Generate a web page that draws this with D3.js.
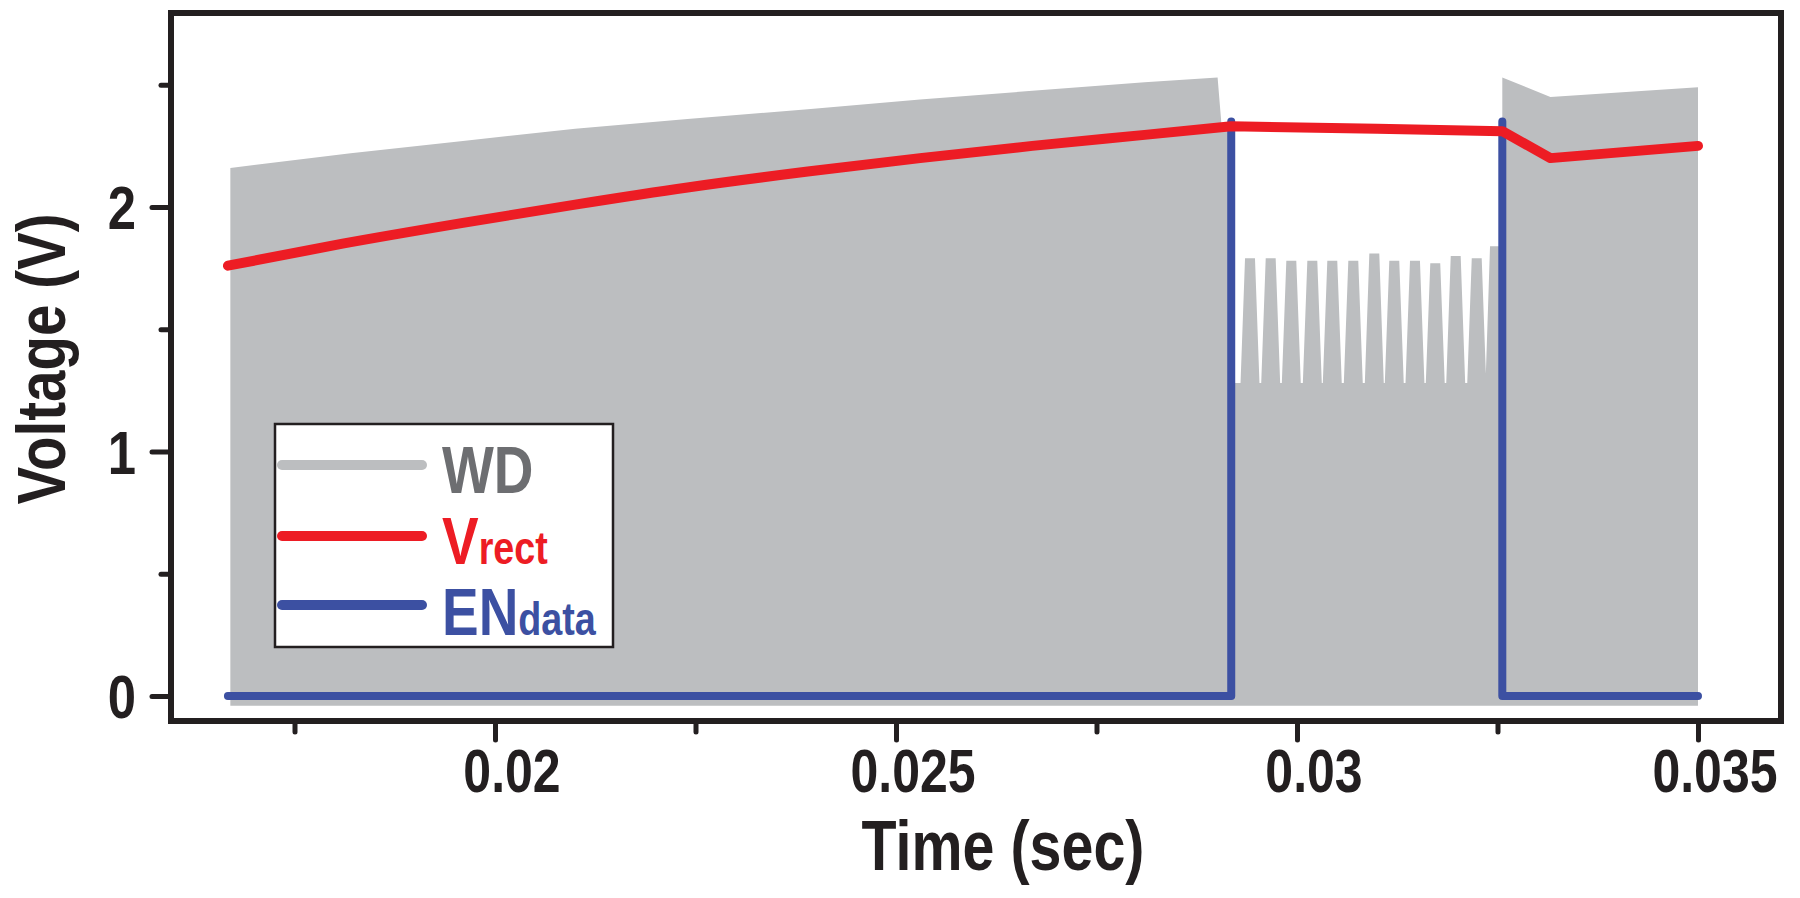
<!DOCTYPE html>
<html><head><meta charset="utf-8">
<script src="https://cdn.jsdelivr.net/npm/d3@7"></script>
<style>
body{margin:0;background:#fff;}
svg{display:block;}
</style></head><body>
<svg id="chart" width="1800" height="898"></svg>
<script>
// ---------- data ----------
const xTicks = [0.02, 0.025, 0.03, 0.035];
const xTickLabels = ["0.02", "0.025", "0.03", "0.035"];
const xMinorTicks = [0.0175, 0.0225, 0.0275, 0.0325];
const yTicks = [0, 1, 2];
const yTickLabels = ["0", "1", "2"];
const yMinorTicks = [0.5, 1.5, 2.5];

// WD (gray) envelope, left charging part
const wdLeftT = [0.01670, 0.0182, 0.0196, 0.0210, 0.0224, 0.0239, 0.0253, 0.0267, 0.0281, 0.02901, 0.02906, 0.02918];
const wdLeftV = [2.16, 2.22, 2.27, 2.32, 2.36, 2.40, 2.44, 2.475, 2.51, 2.53, 2.33, 2.30];
const wdFloor = -0.04;
// WD data burst (between EN edges)
const wdBurstBase = 1.28;
const wdBurstT = [0.029414, 0.029672, 0.029929, 0.030191, 0.030440, 0.030702, 0.030964,
                  0.031213, 0.031471, 0.031724, 0.031979, 0.032241, 0.032469];
const wdBurstPeak = [1.79, 1.79, 1.78, 1.78, 1.78, 1.78, 1.81, 1.78, 1.78, 1.77, 1.80, 1.79, 1.84];
// WD right part
const wdRightT = [0.03256, 0.03256, 0.03316, 0.03500];
const wdRightV = [1.28, 2.53, 2.45, 2.49];

// Vrect (red), charging part then burst / after
const vrectLeftT = [0.01667, 0.0181, 0.0196, 0.0210, 0.0224, 0.0239, 0.0253, 0.0267, 0.0281, 0.02918];
const vrectLeftV = [1.76, 1.85, 1.935, 2.01, 2.08, 2.145, 2.20, 2.25, 2.295, 2.33];
const vrectRightT = [0.02918, 0.0310, 0.03256, 0.03316, 0.03500];
const vrectRightV = [2.33, 2.32, 2.31, 2.20, 2.25];

// ENdata (blue); null = high level hidden under Vrect
const enT = [0.01667, 0.02918, 0.02918, null, 0.03256, 0.03256, 0.03500];
const enV = [0, 0, 2.35, null, 2.35, 0, 0];

const legendNames = ["WD", "V", "EN"];
const legendSubs = ["", "rect", "data"];

// ---------- colors ----------
const C_GRAY = "#bcbec0", C_RED = "#ed1c24", C_BLUE = "#3c50a2", C_AX = "#231f20", C_WDTXT = "#6d6e71";

// ---------- setup ----------
const svg = d3.select("#chart");
const FONT = "'Liberation Sans', Arial, sans-serif";
const SX = 0.82;

function label(parent, x, y, str, size, color, anchor, rot) {
  const g = parent.append("g").attr("transform",
    `translate(${x},${y})` + (rot ? ` rotate(${rot})` : "") + ` scale(${SX},1)`);
  return g.append("text").attr("font-family", FONT).attr("font-weight", "bold")
    .attr("font-size", size).attr("fill", color).attr("text-anchor", anchor || "start").text(str);
}

const L = 171, R = 1781, T = 13, B = 721;
const x = d3.scaleLinear().domain([0.015960, 0.036035]).range([L, R]);
const y = d3.scaleLinear().domain([-0.1022, 2.7935]).range([B, T]);

// ---------- WD envelope ----------
const hb = 0.000118, ht = 0.000062;
const env = [];
wdLeftT.forEach((t, i) => env.push([t, wdLeftV[i]]));
env.push([0.02920, wdBurstBase]);
wdBurstT.forEach((c, i) => {
  env.push([c - hb, wdBurstBase]);
  env.push([c - ht, wdBurstPeak[i]]);
  env.push([c + ht, wdBurstPeak[i]]);
  env.push([c + hb, wdBurstBase]);
});
wdRightT.forEach((t, i) => env.push([t, wdRightV[i]]));

const area = d3.area().x(d => x(d[0])).y0(y(wdFloor)).y1(d => y(d[1]));
svg.append("path").datum(env).attr("d", area).attr("fill", C_GRAY);

// ---------- lines ----------
const line = d3.line().defined(d => d[0] !== null && d[1] !== null)
  .x(d => x(d[0])).y(d => y(d[1]));
const smooth = d3.line().curve(d3.curveMonotoneX).x(d => x(d[0])).y(d => y(d[1]));
svg.append("path").datum(enT.map((t, i) => [t, enV[i]])).attr("d", line)
  .attr("fill", "none").attr("stroke", C_BLUE).attr("stroke-width", 8)
  .attr("stroke-linecap", "round").attr("stroke-linejoin", "round");
const redPath = smooth(vrectLeftT.map((t, i) => [t, vrectLeftV[i]])) +
  line(vrectRightT.map((t, i) => [t, vrectRightV[i]])).replace(/^M/, "L");
svg.append("path").attr("d", redPath)
  .attr("fill", "none").attr("stroke", C_RED).attr("stroke-width", 10)
  .attr("stroke-linecap", "round").attr("stroke-linejoin", "round");

// ---------- axes ----------
function styleAxis(g) {
  g.select(".domain").remove();
  g.selectAll(".tick line").attr("stroke", C_AX).attr("stroke-width", 5).attr("stroke-linecap", "round");
  g.selectAll(".tick text").remove();
}
svg.append("g").attr("transform", `translate(0,${B})`)
  .call(d3.axisBottom(x).tickValues(xTicks).tickSize(19)).call(styleAxis);
svg.append("g").attr("transform", `translate(0,${B})`)
  .call(d3.axisBottom(x).tickValues(xMinorTicks).tickSize(11)).call(styleAxis);
svg.append("g").attr("transform", `translate(${L},0)`)
  .call(d3.axisLeft(y).tickValues(yTicks).tickSize(19)).call(styleAxis);
svg.append("g").attr("transform", `translate(${L},0)`)
  .call(d3.axisLeft(y).tickValues(yMinorTicks).tickSize(10)).call(styleAxis);

xTicks.forEach((v, i) => label(svg, x(v) + 17, 792, xTickLabels[i], 61, C_AX, "middle"));
yTicks.forEach((v, i) => label(svg, 136, y(v) + 22, yTickLabels[i], 62, C_AX, "end"));

// frame
svg.append("rect").attr("x", L).attr("y", T).attr("width", R - L).attr("height", B - T)
  .attr("fill", "none").attr("stroke", C_AX).attr("stroke-width", 6);

// axis titles
label(svg, 1003, 870, "Time (sec)", 70, C_AX, "middle");
label(svg, 65, 359, "Voltage (V)", 69, C_AX, "middle", -90);

// ---------- legend ----------
const lg = svg.append("g");
lg.append("rect").attr("x", 275).attr("y", 424).attr("width", 338).attr("height", 223)
  .attr("fill", "#fff").attr("stroke", C_AX).attr("stroke-width", 2.5);
const lgColors = [C_GRAY, C_RED, C_BLUE];
const lgText = [C_WDTXT, C_RED, C_BLUE];
const lgY = [465, 536, 605];
const lgBase = [493, 564, 635];
legendNames.forEach((n, i) => {
  lg.append("line").attr("x1", 282).attr("x2", 422).attr("y1", lgY[i]).attr("y2", lgY[i])
    .attr("stroke", lgColors[i]).attr("stroke-width", 10).attr("stroke-linecap", "round");
  const t = label(lg, 442, lgBase[i], n, 67, lgText[i], "start");
  if (legendSubs[i]) t.append("tspan").attr("font-size", 46).text(legendSubs[i]);
});
</script>
</body></html>
